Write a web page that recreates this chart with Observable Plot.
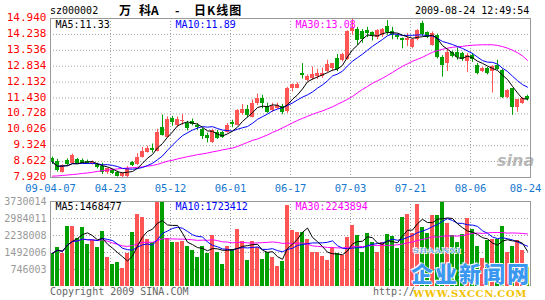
<!DOCTYPE html>
<html><head><meta charset="utf-8">
<script src="https://cdn.jsdelivr.net/npm/d3@7"></script>
<script src="https://cdn.jsdelivr.net/npm/@observablehq/plot@0.6"></script>
<style>
body{margin:0;background:#fff;}
#chart{position:relative;width:545px;height:300px;overflow:hidden;background:#fff;font-family:"DejaVu Sans Mono",monospace;}
#chart svg{position:absolute;left:0;overflow:visible;}
.t{position:absolute;white-space:pre;line-height:1;}
</style></head><body><div id="chart"></div>
<script>
// ---- data ----
const open = [8.75,8.62,8.15,8.67,8.53,8.70,8.67,8.63,8.49,8.49,
8.40,8.12,8.23,8.15,7.95,7.96,8.57,8.49,8.82,9.04,
9.22,9.08,10.14,9.70,10.52,10.20,10.38,10.32,10.40,10.22,
10.04,9.78,9.48,9.92,9.90,9.92,10.34,10.22,10.74,10.93,
10.59,11.18,11.40,11.07,10.86,10.96,11.07,10.84,11.85,11.87,
12.53,12.21,12.27,12.36,12.40,12.61,12.74,13.19,13.09,13.14,
14.35,14.45,14.37,14.42,14.30,14.12,14.20,14.60,14.35,14.20,
14.05,13.98,13.68,14.00,14.72,14.30,13.77,14.20,13.21,12.95,
13.42,13.46,13.39,13.02,13.32,12.87,12.58,12.73,12.58,12.87,
12.65,11.47,11.84,11.00,11.18,11.50];
const high = [8.82,8.72,8.48,8.74,8.95,8.76,8.74,8.69,8.65,8.55,
8.55,8.33,8.28,8.20,8.12,8.40,8.62,8.97,9.25,9.30,
9.40,10.05,10.68,10.60,10.62,10.59,10.70,10.40,10.50,10.30,
10.10,9.88,10.05,10.00,9.95,10.30,10.45,10.92,11.14,11.10,
11.35,11.60,11.55,11.20,11.20,11.20,11.15,11.90,12.05,12.10,
12.95,12.45,12.80,12.70,12.75,13.10,12.95,13.35,13.40,14.40,
14.90,14.55,14.45,14.55,14.35,14.45,14.50,14.85,14.55,14.25,
14.08,14.28,14.05,14.45,14.82,14.35,14.35,14.25,13.30,13.60,
13.50,13.65,13.45,13.40,13.40,12.95,12.78,12.78,12.85,13.10,
12.70,11.80,11.85,11.36,11.45,11.55];
const low = [8.49,8.16,8.12,8.45,8.50,8.52,8.50,8.49,8.47,8.30,
8.05,8.05,8.05,7.94,7.92,7.92,8.40,8.45,8.78,9.00,
9.00,9.05,9.75,9.65,10.18,10.12,10.22,9.98,10.20,10.00,
9.60,9.45,9.42,9.60,9.65,9.88,10.12,10.20,10.66,10.55,
10.55,11.10,10.95,10.75,10.80,10.93,10.70,10.75,11.70,11.85,
12.27,12.15,12.20,12.25,12.30,12.55,12.60,12.60,13.02,13.10,
14.20,13.75,13.85,14.10,13.95,14.00,14.10,14.20,14.00,14.00,
13.60,13.70,13.60,13.95,14.15,14.05,13.72,13.15,12.35,12.60,
13.20,13.10,13.05,12.55,13.00,12.45,12.55,12.45,11.65,12.65,
11.40,11.40,10.66,10.80,11.15,11.30];
const close = [8.60,8.23,8.45,8.49,8.89,8.55,8.56,8.53,8.60,8.35,
8.16,8.30,8.11,7.98,8.08,8.30,8.45,8.82,9.08,9.22,
9.11,9.90,9.78,10.49,10.37,10.46,10.44,10.10,10.26,10.12,
9.75,9.66,10.00,9.66,9.70,10.22,10.25,10.88,10.93,10.66,
11.18,11.40,11.18,10.81,11.06,11.10,10.81,11.86,12.03,12.03,
12.41,12.40,12.45,12.50,12.50,12.90,12.95,12.68,13.33,14.35,
14.49,13.95,14.00,14.27,14.20,14.42,14.45,14.30,14.20,14.10,
13.98,14.06,14.00,14.40,14.25,14.10,14.28,13.21,12.87,13.46,
13.27,13.21,13.12,13.32,13.12,12.51,12.73,12.51,12.80,12.68,
11.47,11.77,11.00,11.36,11.40,11.36];
const volume = [1460000,1720000,1460000,2630000,2630000,2090000,2580000,1840000,2020000,1720000,
2410000,1290000,970000,1070000,800000,1460000,2380000,3160000,3040000,2050000,
1940000,3700000,3730014,2090000,1940000,1940000,1990000,1760000,1560000,1290000,
1770000,1460000,2240000,1510000,970000,1760000,1610000,2490000,1970000,1140000,
1970000,1700000,1170000,1510000,1290000,880000,1110000,3550000,2460000,2380000,
2380000,2050000,1510000,1510000,1320000,1140000,1720000,1430000,1360000,2140000,
2680000,2240000,1510000,2340000,1940000,1510000,1940000,2280000,2190000,1650000,
3040000,3160000,2340000,3600000,2600000,2340000,3120000,3120000,3700000,2750000,
2240000,1940000,2280000,2970000,2490000,1760000,1210000,2020000,2050000,2050000,
2630000,1510000,1760000,2020000,1580000,850000];
// MA30 of price (includes history before the chart window)
const ma30 = [7.98,7.99,8.01,8.03,8.05,8.07,8.10,8.12,8.15,8.19,
8.22,8.25,8.27,8.30,8.32,8.34,8.35,8.37,8.39,8.42,
8.45,8.50,8.57,8.64,8.68,8.74,8.79,8.84,8.88,8.93,
8.96,9.00,9.05,9.09,9.14,9.18,9.22,9.29,9.38,9.47,
9.56,9.62,9.71,9.80,9.91,10.00,10.11,10.22,10.33,10.44,
10.53,10.62,10.71,10.79,10.86,10.95,11.04,11.15,11.26,11.37,
11.50,11.66,11.81,11.94,12.08,12.19,12.30,12.43,12.56,12.70,
12.83,12.94,13.05,13.14,13.23,13.34,13.45,13.52,13.58,13.63,
13.67,13.69,13.71,13.74,13.76,13.77,13.78,13.78,13.78,13.75,
13.70,13.63,13.54,13.43,13.29,13.09];
const priceTicks = [7.920,8.622,9.324,10.026,10.728,11.430,12.132,12.834,13.536,14.238,14.940];
const volTicks = [746003,1492006,2238008,2984011,3730014];
const dateLabels = ["09-04-07","04-23","05-12","06-01","06-17","07-03","07-21","08-06","08-24"];
const dateIdx = [0,12,24,36,48,60,72,84,95];
const priceLegend = ["MA5:11.33","MA10:11.89","MA30:13.08"];
const volLegend = ["MA5:1468477","MA10:1723412","MA30:2243894"];

// ---- styles ----
const UP = "#ff5555", DOWN = "#00a000";
const MONO = "DejaVu Sans Mono, monospace";
const GRID = {stroke:"#a0a0a0", strokeOpacity:1, strokeDasharray:"1,2"};
const LEG_COL = ["#000000","#0000ff","#ff00ff"];
const LEG_DX = [5,125,245];

const bars = close.map((c,i)=>({i, o:open[i], h:high[i], l:low[i], c, v:volume[i], m30:ma30[i]}));
const col = d => d.c >= d.o ? UP : DOWN;
const labelOf = new Map(dateIdx.map((d,k)=>[d, dateLabels[k]]));
const gridIdx = dateIdx.slice(1,-1);
const xc = d => d.i + 0.4;

const price = Plot.plot({
  width:545, height:195, marginLeft:50, marginRight:15, marginTop:18, marginBottom:18,
  x:{type:"linear", domain:[0,96], axis:null, label:null},
  y:{domain:[7.92,14.94], axis:null, label:null},
  color:{type:"identity"},
  style:{fontFamily:MONO, fontSize:"11px", background:"transparent"},
  marks:[
    Plot.gridY(priceTicks, GRID),
    Plot.gridX(gridIdx, GRID),
    Plot.axisY({ticks:priceTicks, tickSize:0, tickPadding:4, dy:-1, tickFormat:d=>d.toFixed(3), color:"#ff0000", fontSize:11, label:null}),
    Plot.axisX({ticks:dateIdx, tickSize:0, tickPadding:7, tickFormat:d=>labelOf.get(d), color:"#1577d0", fontSize:10.5, label:null}),
    Plot.ruleX(bars, {x:xc, y1:"l", y2:"h", stroke:col}),
    Plot.rect(bars, {x1:"i", x2:d=>d.i+0.8, y1:"o", y2:d=>d.c===d.o?d.c+0.02:d.c, fill:col, shapeRendering:"crispEdges"}),
    Plot.lineY(bars, {x:xc, y:"m30", stroke:"#ff00ff", strokeWidth:1}),
    Plot.lineY(bars, Plot.windowY({k:10, anchor:"end"}, {x:xc, y:"c", stroke:"#0000ff", strokeWidth:1})),
    Plot.lineY(bars, Plot.windowY({k:5, anchor:"end"}, {x:xc, y:"c", stroke:"#000000", strokeWidth:1})),
    Plot.frame({stroke:"#999"}),
    ...priceLegend.map((t,k)=>Plot.text([t], {text:d=>d, frameAnchor:"top-left", textAnchor:"start", lineAnchor:"top", dx:LEG_DX[k], dy:2, fill:LEG_COL[k], fontSize:10}))
  ]
});
price.style.top = "0px";

const vol = Plot.plot({
  width:545, height:105, marginLeft:50, marginRight:15, marginTop:6, marginBottom:14,
  x:{type:"linear", domain:[0,96], axis:null, label:null},
  y:{domain:[0,3730014], axis:null, label:null},
  color:{type:"identity"},
  style:{fontFamily:MONO, fontSize:"10px", background:"transparent"},
  marks:[
    Plot.gridY(volTicks, GRID),
    Plot.gridX(gridIdx, GRID),
    Plot.axisY({ticks:volTicks, tickSize:0, tickPadding:4, tickFormat:d=>String(d), color:"#999999", fontSize:10, label:null}),
    Plot.rect(bars, {x1:"i", x2:d=>d.i+0.8, y1:d=>0, y2:"v", fill:col, shapeRendering:"crispEdges"}),
    Plot.lineY(bars, Plot.windowY({k:30, anchor:"end"}, {x:xc, y:"v", stroke:"#ff00ff", strokeWidth:1})),
    Plot.lineY(bars, Plot.windowY({k:10, anchor:"end"}, {x:xc, y:"v", stroke:"#0000ff", strokeWidth:1})),
    Plot.lineY(bars, Plot.windowY({k:5, anchor:"end"}, {x:xc, y:"v", stroke:"#000000", strokeWidth:1})),
    Plot.ruleY([3730014], {stroke:"#999"}),
    Plot.ruleX([0,96], {stroke:"#999"}),
    ...volLegend.map((t,k)=>Plot.text([t], {text:d=>d, frameAnchor:"top-left", textAnchor:"start", lineAnchor:"top", dx:LEG_DX[k], dy:1, fill:LEG_COL[k], fontSize:10}))
  ]
});
vol.style.top = "195px";

const chart = document.getElementById("chart");
function label(txt, css){ const d=document.createElement("div"); d.className="t"; d.textContent=txt; Object.assign(d.style, css); chart.appendChild(d); return d; }
label("sina", {left:"497px", top:"153px", fontFamily:"DejaVu Sans", fontWeight:"bold", fontStyle:"italic", fontSize:"16px", color:"#b8b8b8"});
chart.appendChild(price);
chart.appendChild(vol);
label("sz000002", {left:"50px", top:"6px", fontSize:"10px", color:"#000"});
const CJK = "'Noto Sans CJK SC', sans-serif";
label("万", {left:"119px", top:"4px", fontFamily:CJK, fontWeight:"bold", fontSize:"12px"});
label("科A", {left:"139px", top:"4px", fontFamily:CJK, fontWeight:"bold", fontSize:"12px"});
label("-", {left:"175px", top:"4px", fontFamily:CJK, fontWeight:"bold", fontSize:"12px"});
label("日K线图", {left:"194px", top:"4px", fontFamily:CJK, fontWeight:"bold", fontSize:"12px", letterSpacing:"1px"});
label("2009-08-24 12:49:54", {left:"415px", top:"6px", fontSize:"10px", color:"#000"});
label("Copyright 2009 SINA.COM", {left:"50px", top:"287px", fontSize:"10px", color:"#666"});
label("http://", {left:"373px", top:"287px", fontSize:"10px", color:"#666"});
const WS = "0 0 1px #fff, 0 0 1px #fff, 1px 1px 0 #fff, -1px -1px 0 #fff";
label("SHAANXI", {left:"413px", top:"246px", fontFamily:"DejaVu Serif", fontWeight:"bold", fontSize:"8px", color:"#7eb0e8", letterSpacing:"0.8px", textShadow:WS});
label("企业新闻网", {left:"411px", top:"261px", fontFamily:CJK, fontWeight:"900", fontSize:"22px", letterSpacing:"2px", color:"#3a98f0", textShadow:WS});
label("WWW.SXCCN.COM", {left:"413px", top:"289px", fontFamily:"DejaVu Serif", fontWeight:"bold", fontSize:"10px", color:"#f2c200", letterSpacing:"0.6px"});
</script></body></html>
